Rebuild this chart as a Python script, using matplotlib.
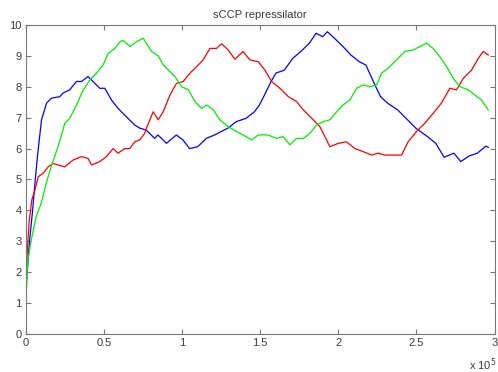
import matplotlib
matplotlib.use('Agg')
import matplotlib.pyplot as plt
from matplotlib.ticker import FuncFormatter

# time points (simulation time) and species levels
t_blue = [0, 0.008e5, 0.023e5, 0.043e5, 0.06e5, 0.075e5, 0.10e5, 0.132e5, 0.164e5,
          0.217e5, 0.239e5, 0.28e5, 0.324e5, 0.356e5, 0.398e5, 0.42e5, 0.473e5,
          0.505e5, 0.548e5, 0.59e5, 0.643e5, 0.697e5, 0.73e5, 0.77e5, 0.824e5,
          0.845e5, 0.90e5, 0.963e5, 1.005e5, 1.048e5, 1.10e5, 1.155e5, 1.208e5,
          1.25e5, 1.293e5, 1.346e5, 1.41e5, 1.463e5, 1.495e5, 1.527e5, 1.57e5,
          1.60e5, 1.655e5, 1.708e5, 1.76e5, 1.815e5, 1.857e5, 1.90e5, 1.93e5,
          1.975e5, 2.03e5, 2.08e5, 2.134e5, 2.177e5, 2.21e5, 2.24e5, 2.27e5,
          2.315e5, 2.38e5, 2.443e5, 2.496e5, 2.57e5, 2.624e5, 2.677e5, 2.74e5,
          2.784e5, 2.837e5, 2.89e5, 2.944e5, 2.96e5]
blue = [1.5, 2.0, 3.0, 4.0, 5.0, 5.8, 6.93, 7.47, 7.63,
        7.68, 7.8, 7.9, 8.17, 8.17, 8.33, 8.22, 7.95,
        7.95, 7.57, 7.3, 7.03, 6.76, 6.66, 6.6, 6.33,
        6.44, 6.17, 6.44, 6.28, 6.0, 6.06, 6.33, 6.44,
        6.55, 6.66, 6.87, 6.98, 7.19, 7.41, 7.73, 8.17,
        8.44, 8.54, 8.92, 9.14, 9.41, 9.73, 9.62, 9.78,
        9.57, 9.3, 9.03, 8.81, 8.7, 8.33, 8.0, 7.68,
        7.47, 7.25, 6.93, 6.66, 6.39, 6.17, 5.72, 5.85,
        5.58, 5.76, 5.85, 6.08, 6.04]

t_red = [0, 0.008e5, 0.02e5, 0.038e5, 0.06e5, 0.079e5, 0.11e5, 0.143e5, 0.174e5,
         0.206e5, 0.249e5, 0.302e5, 0.356e5, 0.398e5, 0.42e5, 0.473e5, 0.516e5,
         0.558e5, 0.59e5, 0.633e5, 0.665e5, 0.697e5, 0.729e5, 0.76e5, 0.771e5,
         0.815e5, 0.847e5, 0.879e5, 0.922e5, 0.964e5, 1.007e5, 1.05e5, 1.093e5,
         1.135e5, 1.178e5, 1.22e5, 1.253e5, 1.295e5, 1.338e5, 1.39e5, 1.434e5,
         1.487e5, 1.53e5, 1.573e5, 1.626e5, 1.68e5, 1.733e5, 1.776e5, 1.83e5,
         1.882e5, 1.914e5, 1.946e5, 2.0e5, 2.053e5, 2.106e5, 2.16e5, 2.213e5,
         2.255e5, 2.298e5, 2.36e5, 2.405e5, 2.447e5, 2.50e5, 2.554e5, 2.607e5,
         2.66e5, 2.714e5, 2.757e5, 2.80e5, 2.853e5, 2.896e5, 2.928e5, 2.96e5]
red = [1.8, 2.6, 3.6, 4.34, 4.7, 5.09, 5.2, 5.41, 5.52,
       5.47, 5.41, 5.63, 5.74, 5.68, 5.47, 5.58, 5.74,
       6.0, 5.85, 6.0, 6.0, 6.22, 6.28, 6.49, 6.65,
       7.19, 6.93, 7.19, 7.73, 8.11, 8.17, 8.44, 8.65,
       8.87, 9.24, 9.24, 9.39, 9.19, 8.89, 9.14, 8.87,
       8.81, 8.54, 8.17, 7.95, 7.68, 7.52, 7.25, 6.98,
       6.71, 6.39, 6.06, 6.17, 6.22, 6.0, 5.9, 5.79,
       5.85, 5.79, 5.79, 5.79, 6.22, 6.55, 6.82, 7.14,
       7.47, 7.95, 7.9, 8.27, 8.54, 8.92, 9.14, 9.03]

t_green = [0, 0.013e5, 0.034e5, 0.066e5, 0.098e5, 0.13e5, 0.164e5, 0.206e5, 0.249e5,
           0.281e5, 0.324e5, 0.367e5, 0.41e5, 0.452e5, 0.495e5, 0.527e5, 0.57e5,
           0.602e5, 0.623e5, 0.666e5, 0.709e5, 0.751e5, 0.805e5, 0.847e5, 0.879e5,
           0.922e5, 0.954e5, 0.997e5, 1.04e5, 1.082e5, 1.125e5, 1.157e5, 1.2e5,
           1.242e5, 1.295e5, 1.349e5, 1.39e5, 1.445e5, 1.487e5, 1.55e5, 1.604e5,
           1.647e5, 1.69e5, 1.733e5, 1.776e5, 1.818e5, 1.861e5, 1.904e5, 1.946e5,
           1.99e5, 2.03e5, 2.074e5, 2.117e5, 2.16e5, 2.202e5, 2.245e5, 2.277e5,
           2.32e5, 2.373e5, 2.426e5, 2.48e5, 2.522e5, 2.565e5, 2.607e5, 2.65e5,
           2.693e5, 2.736e5, 2.779e5, 2.832e5, 2.874e5, 2.917e5, 2.96e5]
green = [1.1, 2.4, 3.04, 3.8, 4.23, 4.88, 5.45, 6.06, 6.82,
         6.98, 7.41, 7.9, 8.22, 8.44, 8.71, 9.08, 9.24,
         9.46, 9.5, 9.3, 9.46, 9.57, 9.14, 9.0, 8.71,
         8.49, 8.33, 8.0, 7.9, 7.52, 7.3, 7.41, 7.25,
         6.93, 6.71, 6.55, 6.44, 6.28, 6.44, 6.44, 6.33,
         6.39, 6.12, 6.33, 6.33, 6.49, 6.76, 6.87, 6.93,
         7.19, 7.41, 7.57, 7.95, 8.06, 8.0, 8.06, 8.44,
         8.6, 8.87, 9.14, 9.19, 9.3, 9.41, 9.24, 8.97,
         8.65, 8.27, 8.0, 7.9, 7.73, 7.57, 7.25]

x_ticks = [0, 0.5e5, 1e5, 1.5e5, 2e5, 2.5e5, 3e5]
y_ticks = list(range(0, 11))

plt.rcParams['font.family'] = ['Liberation Sans', 'DejaVu Sans']

fig = plt.figure(figsize=(4.98, 3.72), dpi=100)
ax = fig.add_axes([0.052, 0.102, 0.941, 0.831])

ax.plot(t_blue, blue, color='#0000ff', lw=0.9)
ax.plot(t_red, red, color='#ff0000', lw=0.9)
ax.plot(t_green, green, color='#00ee00', lw=0.9)

axis_col = '#777777'
ax.set_xlim(0, 3e5)
ax.set_ylim(0, 10)
ax.set_xticks(x_ticks)
ax.set_yticks(y_ticks)
ax.xaxis.set_major_formatter(FuncFormatter(lambda v, p: f'{v / 1e5:g}'))
ax.tick_params(direction='in', length=3.5, width=0.8, color=axis_col,
               labelsize=8, labelcolor='#3a3a3a', top=True, right=True, pad=3)
for s in ax.spines.values():
    s.set_color(axis_col)
    s.set_linewidth(0.8)

ax.set_title('sCCP repressilator', fontsize=8, color='#3a3a3a', pad=5)
fig.text(0.942, 0.006, 'x 10$^{5}$', fontsize=8, color='#3a3a3a')

fig.savefig('out.png', dpi=100)
